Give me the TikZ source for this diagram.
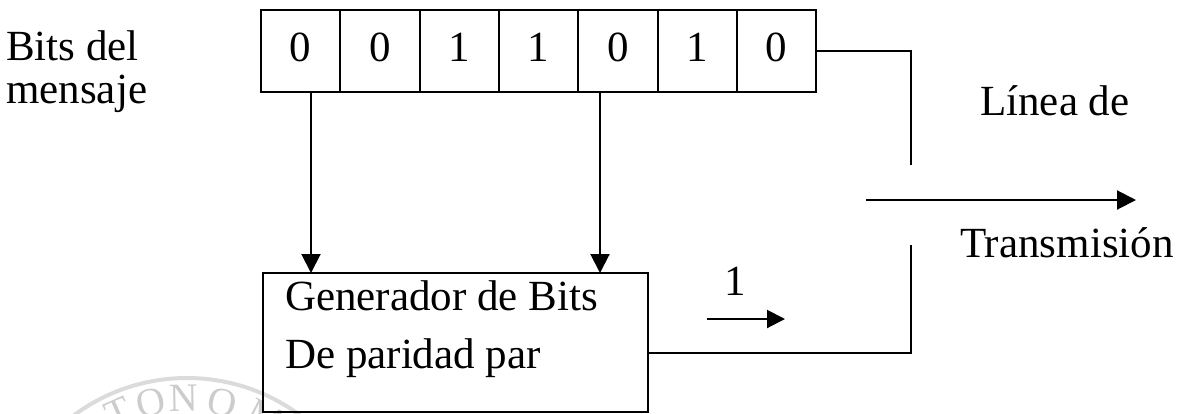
\documentclass[tikz,border=0pt]{standalone}
\usepackage{fontspec}
\setmainfont{Liberation Serif}
\usetikzlibrary{arrows.meta}
\newcommand\diagfont{\fontsize{43}{51}\selectfont}
\newcommand\wmfont{\fontsize{40}{48}\selectfont}
\tikzset{
  ln/.style={line width=2pt},
  cell/.style={draw, ln, minimum width=79.3pt, minimum height=82pt, inner sep=0pt, outer sep=0pt,
               text height=28pt, text depth=8pt, anchor=north west, font=\diagfont},
  genbox/.style={draw, ln, minimum width=385pt, minimum height=139pt, anchor=north west,
                 inner sep=0pt, outer sep=0pt},
  lbl/.style={anchor=base west, inner sep=0pt, font=\diagfont},
  arr/.style={ln, -{Triangle[length=19pt,width=19pt]}},
  sarr/.style={ln, -{Triangle[length=18pt,width=18pt]}},
  wmline/.style={line width=4pt, draw=gray!28},
  wmtext/.style={text=gray!40, font=\wmfont, inner sep=0pt, anchor=north}
}
\begin{document}
\begin{tikzpicture}[x=1pt, y=-1pt]
\useasboundingbox (0,0) rectangle (1182,413);
\clip (0,0) rectangle (1182,413);

% watermark fragment
\draw[wmline] (187,568) circle[radius=190pt];
\foreach \l/\a in {T/-23.9, O/-12.2, N/-1, O/11.9, M/27.5}
  \node[wmtext, rotate=-\a] at ({187+183*sin(\a)},{568-183*cos(\a)}) {\l};

% labels
\node[lbl] (t1) at (6,60) {Bits del};
\node[lbl] (t2) at (6,103) {mensaje};
\node[lbl] (t3) at (980,115) {Línea de};
\node[lbl] (t4) at (960,257) {Transmisión};

% register
\foreach \i/\d in {1/0,2/0,3/1,4/1,5/0,6/1,7/0}
  \node[cell] (c\i) at ({261+79.3*(\i-1)},10) {\d};

% generator
\node[genbox] (gen) at (263,273) {};
\node[lbl] (g1) at (285,310) {Generador de Bits};
\node[lbl] (g2) at (285,368) {De paridad par};

% taps
\coordinate (a1) at (311,92);
\coordinate (a5) at (600,92);
\draw[arr] (a1) -- (a1 |- gen.north);
\draw[arr] (a5) -- (a5 |- gen.north);

% switch
\coordinate (r1) at (816,51);
\coordinate (sw1) at (911,165);
\coordinate (sw2) at (911,245);
\coordinate (gout) at (648,353);
\draw[ln] (r1) -| (sw1);
\draw[ln] (gout) -| (sw2);
\coordinate (o1) at (866,200);
\coordinate (o2) at (1136,200);
\draw[arr] (o1) -- (o2);

% parity bit
\coordinate (s1) at (707,319);
\coordinate (s2) at (785,319);
\draw[sarr] (s1) -- (s2);
\node[lbl, anchor=base] (one) at (735,295) {1};
\end{tikzpicture}
\end{document}
